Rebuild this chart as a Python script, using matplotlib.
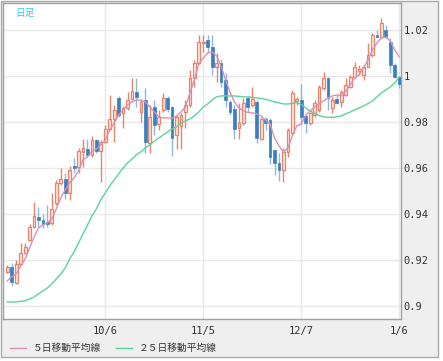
import numpy as np
import matplotlib
matplotlib.use('Agg')
import matplotlib.pyplot as plt
from matplotlib.patches import Rectangle
from matplotlib.lines import Line2D

# daily candles, oldest first
opens = [0.9148, 0.9170, 0.9100, 0.9183, 0.9230, 0.9287, 0.9343, 0.9387, 0.9374, 0.9365,
         0.9361, 0.9448, 0.9535, 0.9552, 0.9491, 0.9609, 0.9604, 0.9670, 0.9683, 0.9657,
         0.9722, 0.9674, 0.9713, 0.9770, 0.9813, 0.9904, 0.9839, 0.9861, 0.9900, 0.9930,
         0.9843, 0.9896, 0.9709, 0.9865, 0.9791, 0.9852, 0.9904, 0.9865, 0.9743, 0.9783,
         0.9843, 0.9874, 0.9991, 1.0057, 1.0143, 1.0157, 1.0126, 1.0039, 1.0057, 0.9983,
         0.9887, 0.9857, 0.9774, 0.9796, 0.9904, 0.9874, 0.9887, 0.9726, 0.9813, 0.9809,
         0.9678, 0.9622, 0.9591, 0.9670, 0.9752, 0.9891, 0.9896, 0.9826, 0.9796, 0.9830,
         0.9852, 0.9948, 0.9991, 0.9861, 0.9900, 0.9887, 0.9917, 0.9952, 0.9996, 1.0022,
         1.0004, 1.0039, 1.0091, 1.0178, 1.0170, 1.0200, 1.0148, 1.0048, 0.9996]
highs = [0.9178, 0.9187, 0.9200, 0.9274, 0.9274, 0.9357, 0.9452, 0.9430, 0.9400, 0.9439,
         0.9491, 0.9548, 0.9600, 0.9578, 0.9609, 0.9643, 0.9687, 0.9726, 0.9726, 0.9739,
         0.9726, 0.9722, 0.9787, 0.9917, 0.9874, 0.9913, 0.9870, 0.9930, 0.9991, 0.9991,
         0.9900, 0.9948, 0.9874, 0.9896, 0.9852, 0.9926, 0.9913, 0.9870, 0.9830, 0.9839,
         0.9896, 1.0026, 1.0070, 1.0178, 1.0178, 1.0178, 1.0178, 1.0100, 1.0074, 1.0013,
         0.9896, 0.9874, 0.9883, 0.9904, 0.9913, 0.9952, 0.9896, 0.9822, 0.9822, 0.9817,
         0.9678, 0.9665, 0.9687, 0.9774, 0.9939, 0.9909, 0.9965, 0.9830, 0.9843, 0.9896,
         0.9961, 1.0017, 0.9996, 0.9909, 0.9917, 0.9939, 0.9991, 1.0004, 1.0061, 1.0048,
         1.0048, 1.0143, 1.0187, 1.0200, 1.0252, 1.0222, 1.0165, 1.0057, 1.0000]
lows = [0.9143, 0.9087, 0.9096, 0.9178, 0.9226, 0.9283, 0.9339, 0.9343, 0.9339, 0.9343,
        0.9352, 0.9439, 0.9526, 0.9465, 0.9461, 0.9578, 0.9578, 0.9604, 0.9648, 0.9648,
        0.9665, 0.9539, 0.9709, 0.9765, 0.9713, 0.9822, 0.9774, 0.9852, 0.9896, 0.9865,
        0.9800, 0.9665, 0.9665, 0.9743, 0.9765, 0.9843, 0.9843, 0.9652, 0.9683, 0.9683,
        0.9774, 0.9865, 0.9952, 1.0052, 1.0104, 1.0100, 1.0004, 0.9974, 0.9952, 0.9865,
        0.9830, 0.9726, 0.9726, 0.9787, 0.9843, 0.9865, 0.9709, 0.9722, 0.9765, 0.9617,
        0.9570, 0.9543, 0.9539, 0.9648, 0.9743, 0.9874, 0.9787, 0.9752, 0.9787, 0.9822,
        0.9843, 0.9939, 0.9852, 0.9839, 0.9878, 0.9865, 0.9913, 0.9948, 0.9991, 1.0004,
        0.9983, 1.0039, 1.0083, 1.0165, 1.0165, 1.0165, 1.0013, 0.9991, 0.9948]
closes = [0.9170, 0.9104, 0.9183, 0.9230, 0.9257, 0.9343, 0.9391, 0.9374, 0.9357, 0.9357,
          0.9422, 0.9535, 0.9552, 0.9491, 0.9591, 0.9600, 0.9674, 0.9687, 0.9657, 0.9722,
          0.9674, 0.9713, 0.9770, 0.9813, 0.9852, 0.9830, 0.9861, 0.9896, 0.9935, 0.9909,
          0.9887, 0.9713, 0.9822, 0.9787, 0.9822, 0.9904, 0.9857, 0.9730, 0.9822, 0.9830,
          0.9874, 0.9991, 1.0057, 1.0148, 1.0148, 1.0126, 1.0039, 1.0057, 0.9974, 0.9896,
          0.9843, 0.9770, 0.9796, 0.9883, 0.9865, 0.9900, 0.9730, 0.9813, 0.9796, 0.9648,
          0.9622, 0.9591, 0.9670, 0.9765, 0.9926, 0.9900, 0.9822, 0.9796, 0.9839, 0.9883,
          0.9952, 0.9991, 0.9904, 0.9896, 0.9883, 0.9930, 0.9961, 0.9996, 1.0039, 1.0030,
          1.0039, 1.0091, 1.0178, 1.0170, 1.0230, 1.0170, 1.0048, 0.9996, 0.9965]

# moving averages as shown on the chart
ma5 = [0.9109, 0.9126, 0.9139, 0.9174, 0.9204, 0.9252, 0.9300, 0.9339, 0.9352, 0.9361,
       0.9378, 0.9422, 0.9470, 0.9504, 0.9535, 0.9557, 0.9587, 0.9635, 0.9648, 0.9670,
       0.9683, 0.9700, 0.9722, 0.9765, 0.9796, 0.9830, 0.9852, 0.9874, 0.9887, 0.9896,
       0.9893, 0.9887, 0.9865, 0.9843, 0.9822, 0.9817, 0.9817, 0.9817, 0.9826, 0.9843,
       0.9865, 0.9926, 0.9983, 1.0052, 1.0078, 1.0100, 1.0104, 1.0087, 1.0043, 0.9983,
       0.9930, 0.9887, 0.9861, 0.9848, 0.9841, 0.9839, 0.9835, 0.9826, 0.9809, 0.9791,
       0.9730, 0.9696, 0.9670, 0.9687, 0.9739, 0.9783, 0.9791, 0.9830, 0.9848, 0.9865,
       0.9878, 0.9891, 0.9904, 0.9913, 0.9917, 0.9913, 0.9935, 0.9961, 0.9991, 1.0004,
       1.0035, 1.0070, 1.0113, 1.0143, 1.0165, 1.0170, 1.0152, 1.0113, 1.0083]
ma25 = [0.9017, 0.9017, 0.9017, 0.9020, 0.9022, 0.9030, 0.9039, 0.9052, 0.9065, 0.9078,
        0.9096, 0.9117, 0.9139, 0.9165, 0.9204, 0.9235, 0.9274, 0.9313, 0.9352, 0.9391,
        0.9422, 0.9461, 0.9491, 0.9522, 0.9548, 0.9574, 0.9600, 0.9622, 0.9639, 0.9657,
        0.9670, 0.9687, 0.9700, 0.9717, 0.9730, 0.9743, 0.9757, 0.9770, 0.9778, 0.9796,
        0.9804, 0.9813, 0.9826, 0.9843, 0.9865, 0.9878, 0.9896, 0.9909, 0.9913, 0.9913,
        0.9913, 0.9913, 0.9911, 0.9909, 0.9909, 0.9907, 0.9904, 0.9902, 0.9898, 0.9893,
        0.9887, 0.9883, 0.9878, 0.9878, 0.9880, 0.9883, 0.9876, 0.9861, 0.9848, 0.9837,
        0.9828, 0.9822, 0.9820, 0.9820, 0.9822, 0.9826, 0.9835, 0.9843, 0.9852, 0.9861,
        0.9870, 0.9880, 0.9891, 0.9909, 0.9926, 0.9939, 0.9952, 0.9970, 0.9996]

xtick_pos = [22, 44, 66, 88]
xtick_labels = ['10/6', '11/5', '12/7', '1/6']
ytick_vals = [0.9, 0.92, 0.94, 0.96, 0.98, 1.0, 1.02]
ytick_labels = ['0.9', '0.92', '0.94', '0.96', '0.98', '1', '1.02']

UP_EDGE = '#e8836c'
UP_FILL = '#fbe6df'
DOWN = '#3a7fc1'
DOWN_WICK = '#8fb8df'

W, H = 443, 361
fig = plt.figure(figsize=(W / 100, H / 100), dpi=100)
fig.patches.append(Rectangle((1 / W, 1 - 357 / H), 437 / W, 356 / H, transform=fig.transFigure,
                             facecolor='#efefef', edgecolor='#a9a9a9', lw=1, zorder=-10))

ax = fig.add_axes([3 / W, 1 - 319 / H, 398 / W, 316 / H])
ax.set_facecolor('white')

x = np.arange(len(opens))
o = np.array(opens)
c = np.array(closes)
up = c >= o

ax.vlines(x[up], np.array(lows)[up], np.array(highs)[up], color=UP_EDGE, lw=1, zorder=2)
ax.vlines(x[~up], np.array(lows)[~up], np.array(highs)[~up], color=DOWN_WICK, lw=1, zorder=2)
ax.bar(x[up], (c - o)[up], bottom=o[up], width=0.62, color=UP_FILL, edgecolor=UP_EDGE, lw=0.9, zorder=3)
ax.bar(x[~up], (o - c)[~up], bottom=c[~up], width=0.62, color=DOWN, edgecolor=DOWN, lw=0.5, zorder=3)

ax.plot(x, ma25, color='#5dd39b', lw=1, zorder=4)
ax.plot(x, ma5, color='#d990b5', lw=1, zorder=4)

ax.set_xlim(-0.97, 88.4)
ax.set_ylim(0.8943, 1.0317)
ax.set_xticks(xtick_pos)
ax.set_xticklabels(xtick_labels)
ax.set_yticks(ytick_vals)
ax.set_yticklabels(ytick_labels)
ax.yaxis.tick_right()
ax.tick_params(length=0, labelsize=7.5, colors='#333333', pad=2)
ax.tick_params(axis='x', pad=5)
for lab in ax.get_xticklabels() + ax.get_yticklabels():
    lab.set_family('DejaVu Sans Mono')
ax.grid(True, color='#e8e8e8', lw=1)
ax.set_axisbelow(True)
for s in ax.spines.values():
    s.set_color('#a0a0a0')
    s.set_linewidth(1)

ax.text(0.03, 0.968, '日足', transform=ax.transAxes, color='#3ec6f0', fontsize=7,
        family=['Noto Sans CJK JP', 'DejaVu Sans'], ha='left', va='center')

handles = [Line2D([], [], color='#d990b5', lw=1), Line2D([], [], color='#5dd39b', lw=1)]
leg = fig.legend(handles, ['５日移動平均線', '２５日移動平均線'], loc='center left',
                 bbox_to_anchor=(10 / W, 1 - 348 / H), ncol=2, frameon=False,
                 prop={'family': ['Noto Sans CJK JP', 'DejaVu Sans'], 'size': 7},
                 handlelength=1.6, handletextpad=0.7, columnspacing=1.6, borderpad=0,
                 borderaxespad=0)
for t in leg.get_texts():
    t.set_color('#333333')

fig.savefig('out.png', dpi=100)
